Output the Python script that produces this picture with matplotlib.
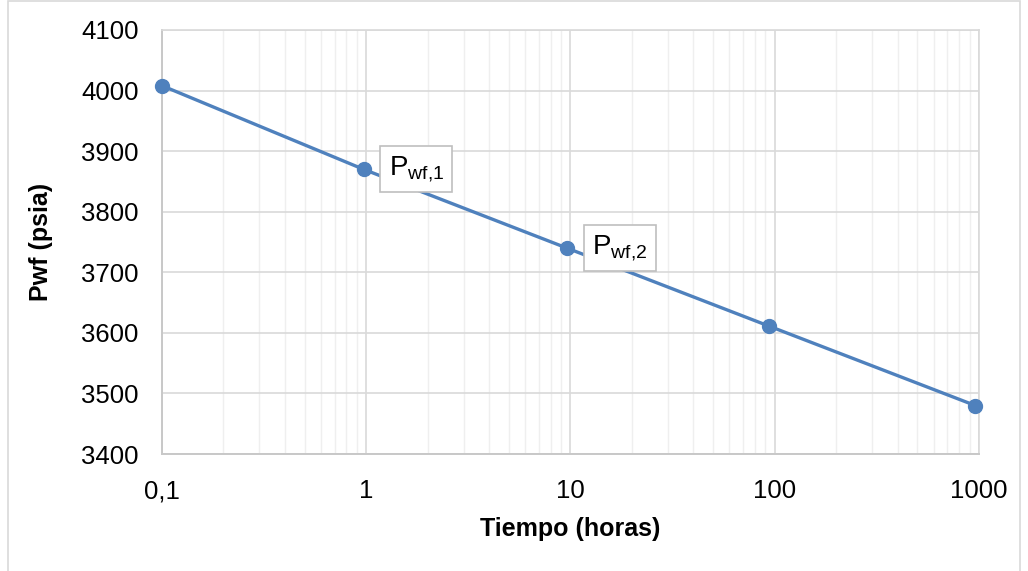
import matplotlib
matplotlib.use("Agg")
import matplotlib.pyplot as plt
from matplotlib.ticker import LogLocator, FixedLocator, FixedFormatter, NullFormatter
from matplotlib.patches import Rectangle

plt.rcParams['font.family'] = ['Liberation Sans', 'DejaVu Sans']
plt.rcParams['mathtext.fontset'] = 'custom'
plt.rcParams['mathtext.rm'] = 'Liberation Sans'
plt.rcParams['mathtext.it'] = 'Liberation Sans'

# Flowing bottom-hole pressure vs. time (semilog)
tiempo = [0.1, 0.97, 9.6, 94, 960]
pwf = [4008, 3870, 3740, 3611, 3480]

x_ticks = [0.1, 1, 10, 100, 1000]
x_tick_labels = ["0,1", "1", "10", "100", "1000"]
y_ticks = [3400, 3500, 3600, 3700, 3800, 3900, 4000, 4100]

# annotated points: (index, label)
callouts = [(1, r"P$_{\mathrm{wf{,}1}}$"), (2, r"P$_{\mathrm{wf{,}2}}$")]

line_color = "#4F81BD"
major_grid = "#d9d9d9"
minor_grid = "#efefef"

fig = plt.figure(figsize=(10.28, 5.71), dpi=100)
ax = fig.add_axes([0.1576, 0.2049, 0.7947, 0.7426])

ax.plot(tiempo, pwf, color=line_color, lw=2.4, marker="o", ms=10,
        markerfacecolor=line_color, markeredgecolor=line_color, zorder=3,
        clip_on=False)

ax.set_xscale("log")
ax.set_xlim(0.1, 1000)
ax.set_ylim(3400, 4100)

ax.xaxis.set_major_locator(FixedLocator(x_ticks))
ax.xaxis.set_major_formatter(FixedFormatter(x_tick_labels))
ax.xaxis.set_minor_locator(LogLocator(base=10, subs=range(2, 10), numticks=20))
ax.xaxis.set_minor_formatter(NullFormatter())
ax.set_yticks(y_ticks)

ax.grid(True, which="major", color=major_grid, lw=1.2, zorder=0)
ax.grid(True, which="minor", axis="x", color=minor_grid, lw=1.0, zorder=0)
ax.set_axisbelow(True)

ax.tick_params(axis="both", which="both", length=0, labelsize=18.5,
               colors="black")
ax.tick_params(axis="x", pad=18)
ax.tick_params(axis="y", pad=17)

for side in ["top", "right"]:
    ax.spines[side].set_color(major_grid)
    ax.spines[side].set_linewidth(1.2)
for side in ["left", "bottom"]:
    ax.spines[side].set_color("#c8c8c8")
    ax.spines[side].set_linewidth(1.4)

ax.set_xlabel("Tiempo (horas)", fontsize=18, fontweight="bold", labelpad=10)
ax.set_ylabel("Pwf (psia)", fontsize=18, fontweight="bold", labelpad=20)

for idx, text in callouts:
    ax.annotate(text, xy=(tiempo[idx], pwf[idx]), xytext=(18, 0),
                textcoords="offset points", ha="left", va="center",
                fontsize=20, zorder=4,
                bbox=dict(boxstyle="square,pad=0.3", fc="white",
                          ec="#bfbfbf", lw=1.2))

# outer chart frame
fig.patches.append(Rectangle((0.008, -0.01), 0.984, 1.008,
                             transform=fig.transFigure, fill=False,
                             ec="#d9d9d9", lw=1.2))

fig.savefig("out.png", dpi=100)
